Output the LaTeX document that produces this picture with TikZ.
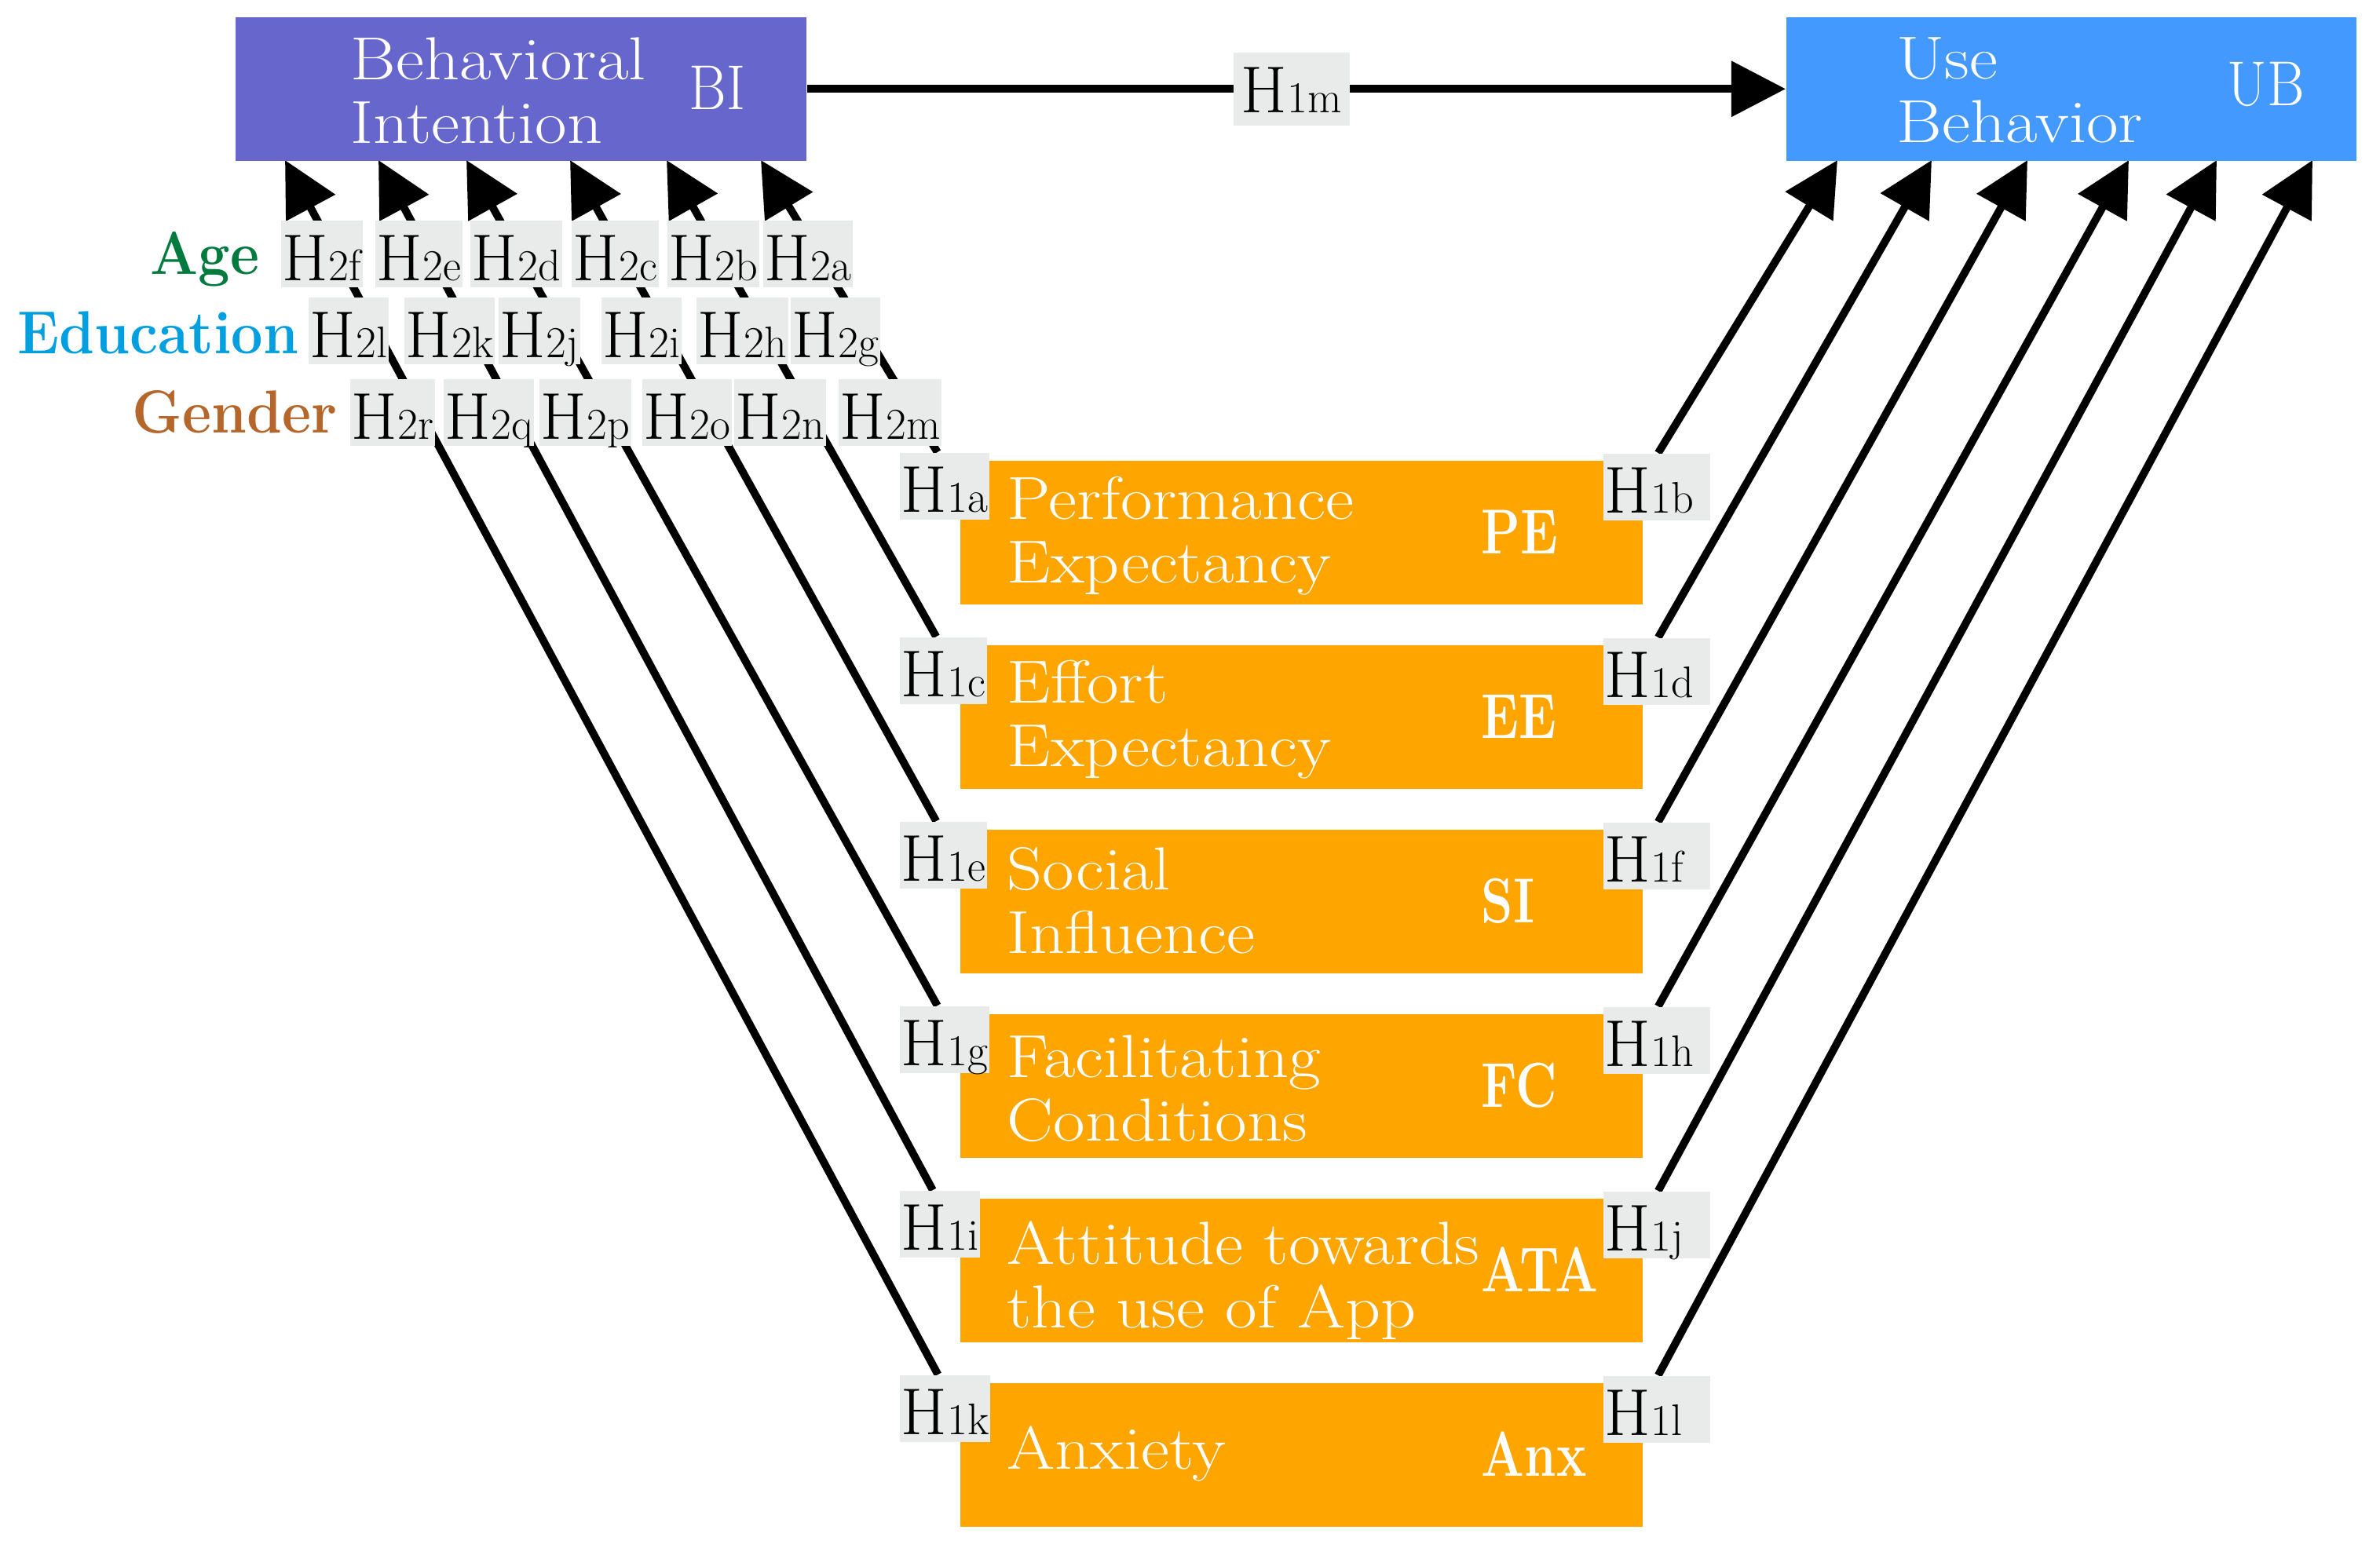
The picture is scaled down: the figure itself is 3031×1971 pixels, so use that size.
\documentclass[tikz,border=0pt]{standalone}
\usepackage{graphicx}
\usetikzlibrary{arrows.meta}
\definecolor{bipurple}{RGB}{102,102,204}
\definecolor{ubblue}{RGB}{68,153,255}
\definecolor{consorange}{RGB}{255,165,0}
\definecolor{lblgray}{RGB}{233,234,234}
\definecolor{agegreen}{RGB}{0,122,63}
\definecolor{edublue}{RGB}{0,159,223}
\definecolor{gendbrown}{RGB}{181,102,42}
\pgfdeclarelayer{bg}
\pgfsetlayers{bg,main}
\newcommand\hyp[1]{H{\fontsize{16}{16}\selectfont #1}}
\newcommand\twoline[2]{\scalebox{1.14}[1]{\vtop{\hbox{#1}\hbox{#2}}}}
\newcommand\oneline[1]{\scalebox{1.14}[1]{#1}}
\begin{document}
\begin{tikzpicture}[x=0.01cm,y=-0.01cm,
  conn/.style={line width=2.8pt, draw=black},
  arr/.style={conn, -{Triangle[length=0.69cm,width=0.69cm]}},
  bigbox/.style={anchor=north west, inner sep=0pt, minimum height=1.83cm, draw=none},
  cbox/.style={bigbox, fill=consorange, minimum width=8.69cm},
  btxt/.style={anchor=base west, inner sep=0pt, text=white, font=\fontsize{22}{23.3}\selectfont},
  babbr/.style={anchor=base west, inner sep=0pt, text=white, font=\fontsize{23}{24}\selectfont\bfseries},
  rabbr/.style={anchor=base west, inner sep=0pt, text=white, font=\fontsize{23}{24}\selectfont},
  hyplbl/.style={fill=lblgray, inner xsep=0.02cm, inner ysep=0.03cm, text height=0.73cm, text depth=0.06cm, font=\fontsize{24}{24}\selectfont},
  hleft/.style={hyplbl, anchor=north west},
  hright/.style={hyplbl, anchor=north west, text width=1.32cm, align=left},
  hrow/.style={hyplbl, anchor=west},
  hmid/.style={fill=lblgray, inner xsep=0.1cm, inner ysep=0.03cm, text height=0.74cm, text depth=0.13cm, font=\fontsize{24}{24}\selectfont},
  rowlbl/.style={anchor=base east, inner sep=0pt, font=\fontsize{22}{24}\selectfont\bfseries},
]
\useasboundingbox (0,0) rectangle (3031,1971);

% main boxes
\node[bigbox, fill=bipurple, minimum width=7.27cm] (BI) at (299,21) {};
\node[bigbox, fill=ubblue, minimum width=7.26cm] (UB) at (2274,21) {};
\node[btxt] (BItxt) at (446,101) {\twoline{Behavioral}{Intention}};
\node[rabbr] (BIab) at (877,139) {\scalebox{0.9}[1]{BI}};
\node[btxt] (UBtxt) at (2415,100) {\twoline{Use}{Behavior}};
\node[rabbr] (UBab) at (2836,134) {\scalebox{0.9}[1]{UB}};

% construct boxes
\node[cbox] (PE) at (1222,586) {};
\node[cbox] (EE) at (1222,821) {};
\node[cbox] (SI) at (1222,1056) {};
\node[cbox] (FC) at (1222,1291) {};
\node[cbox] (ATA) at (1222,1526) {};
\node[cbox] (ANX) at (1222,1761) {};

\node[btxt] (PEtxt) at (1282,661) {\twoline{Performance}{Expectancy}};
\node[btxt] (EEtxt) at (1282,895) {\twoline{Effort}{Expectancy}};
\node[btxt] (SItxt) at (1282,1133) {\twoline{Social}{Influence}};
\node[btxt] (FCtxt) at (1282,1372) {\twoline{Facilitating}{Conditions}};
\node[btxt] (ATAtxt) at (1282,1610) {\twoline{Attitude towards}{the use of App}};
\node[btxt] (ANXtxt) at (1282,1871) {\oneline{Anxiety}};

\node[babbr] (PEab) at (1886,705) {\scalebox{0.8}[1]{PE}};
\node[babbr] (EEab) at (1886,940) {\scalebox{0.8}[1]{EE}};
\node[babbr] (SIab) at (1886,1175) {\scalebox{0.8}[1]{SI}};
\node[babbr] (FCab) at (1886,1410) {\scalebox{0.8}[1]{FC}};
\node[babbr] (ATAab) at (1886,1645) {\scalebox{0.8}[1]{ATA}};
\node[babbr] (ANXab) at (1886,1880) {\scalebox{0.8}[1]{Anx}};

% H1 labels left
\node[hleft] (H1a) at (1145,576) {\hyp{1a}};
\node[hleft] (H1c) at (1145,811) {\hyp{1c}};
\node[hleft] (H1e) at (1145,1046) {\hyp{1e}};
\node[hleft] (H1g) at (1145,1281) {\hyp{1g}};
\node[hleft] (H1i) at (1145,1516) {\hyp{1i}};
\node[hleft] (H1k) at (1145,1751) {\hyp{1k}};
% H1 labels right
\node[hright] (H1b) at (2041,577) {\hyp{1b}};
\node[hright] (H1d) at (2041,812) {\hyp{1d}};
\node[hright] (H1f) at (2041,1047) {\hyp{1f}};
\node[hright] (H1h) at (2041,1282) {\hyp{1h}};
\node[hright] (H1j) at (2041,1517) {\hyp{1j}};
\node[hright] (H1l) at (2041,1752) {\hyp{1l}};

% moderator row labels
\node[rowlbl, text=agegreen] (Age) at (331,349) {\scalebox{0.93}[1]{Age}};
\node[rowlbl, text=edublue] (Edu) at (381,450) {\scalebox{0.93}[1]{Education}};
\node[rowlbl, text=gendbrown] (Gen) at (430,551) {\scalebox{0.93}[1]{Gender}};

% H2 labels
\node[hrow] (H2f) at (357,323.5) {\hyp{2f}};
\node[hrow] (H2e) at (477,323.5) {\hyp{2e}};
\node[hrow] (H2d) at (598,323.5) {\hyp{2d}};
\node[hrow] (H2c) at (727,323.5) {\hyp{2c}};
\node[hrow] (H2b) at (849,323.5) {\hyp{2b}};
\node[hrow] (H2a) at (971,323.5) {\hyp{2a}};
\node[hrow] (H2l) at (392,421.5) {\hyp{2l}};
\node[hrow] (H2k) at (514,421.5) {\hyp{2k}};
\node[hrow] (H2j) at (634,421.5) {\hyp{2j}};
\node[hrow] (H2i) at (765,421.5) {\hyp{2i}};
\node[hrow] (H2h) at (886,421.5) {\hyp{2h}};
\node[hrow] (H2g) at (1006,421.5) {\hyp{2g}};
\node[hrow] (H2r) at (445,525.5) {\hyp{2r}};
\node[hrow] (H2q) at (564,525.5) {\hyp{2q}};
\node[hrow] (H2p) at (686,525.5) {\hyp{2p}};
\node[hrow] (H2o) at (817,525.5) {\hyp{2o}};
\node[hrow] (H2n) at (934,525.5) {\hyp{2n}};
\node[hrow] (H2m) at (1067,525.5) {\hyp{2m}};

% arrow end points on BI and UB
\coordinate (bi1) at (969,204);
\coordinate (bi2) at (849,204);
\coordinate (bi3) at (726,204);
\coordinate (bi4) at (594,204);
\coordinate (bi5) at (482,204);
\coordinate (bi6) at (363,204);
\coordinate (ub1) at (2340,204);
\coordinate (ub2) at (2460,204);
\coordinate (ub3) at (2582,204);
\coordinate (ub4) at (2711,204);
\coordinate (ub5) at (2823,204);
\coordinate (ub6) at (2945,204);

\begin{pgfonlayer}{bg}
\fill[white] (0,0) rectangle (3031,1971);
\draw[arr] ([xshift=-0.09cm]H1a.north) -- (bi1);
\draw[arr] ([xshift=-0.09cm]H1c.north) -- (bi2);
\draw[arr] ([xshift=-0.09cm]H1e.north) -- (bi3);
\draw[arr] ([xshift=-0.09cm]H1g.north) -- (bi4);
\draw[arr] ([xshift=-0.09cm]H1i.north) -- (bi5);
\draw[arr] ([xshift=-0.09cm]H1k.north) -- (bi6);
\draw[arr] ([xshift=0.02cm]H1b.north) -- (ub1);
\draw[arr] ([xshift=0.02cm]H1d.north) -- (ub2);
\draw[arr] ([xshift=0.02cm]H1f.north) -- (ub3);
\draw[arr] ([xshift=0.02cm]H1h.north) -- (ub4);
\draw[arr] ([xshift=0.02cm]H1j.north) -- (ub5);
\draw[arr] ([xshift=0.02cm]H1l.north) -- (ub6);
\end{pgfonlayer}

\draw[arr] (BI) -- node[hmid, pos=0.495] (H1m) {\hyp{1m}} (UB);
\end{tikzpicture}
\end{document}
